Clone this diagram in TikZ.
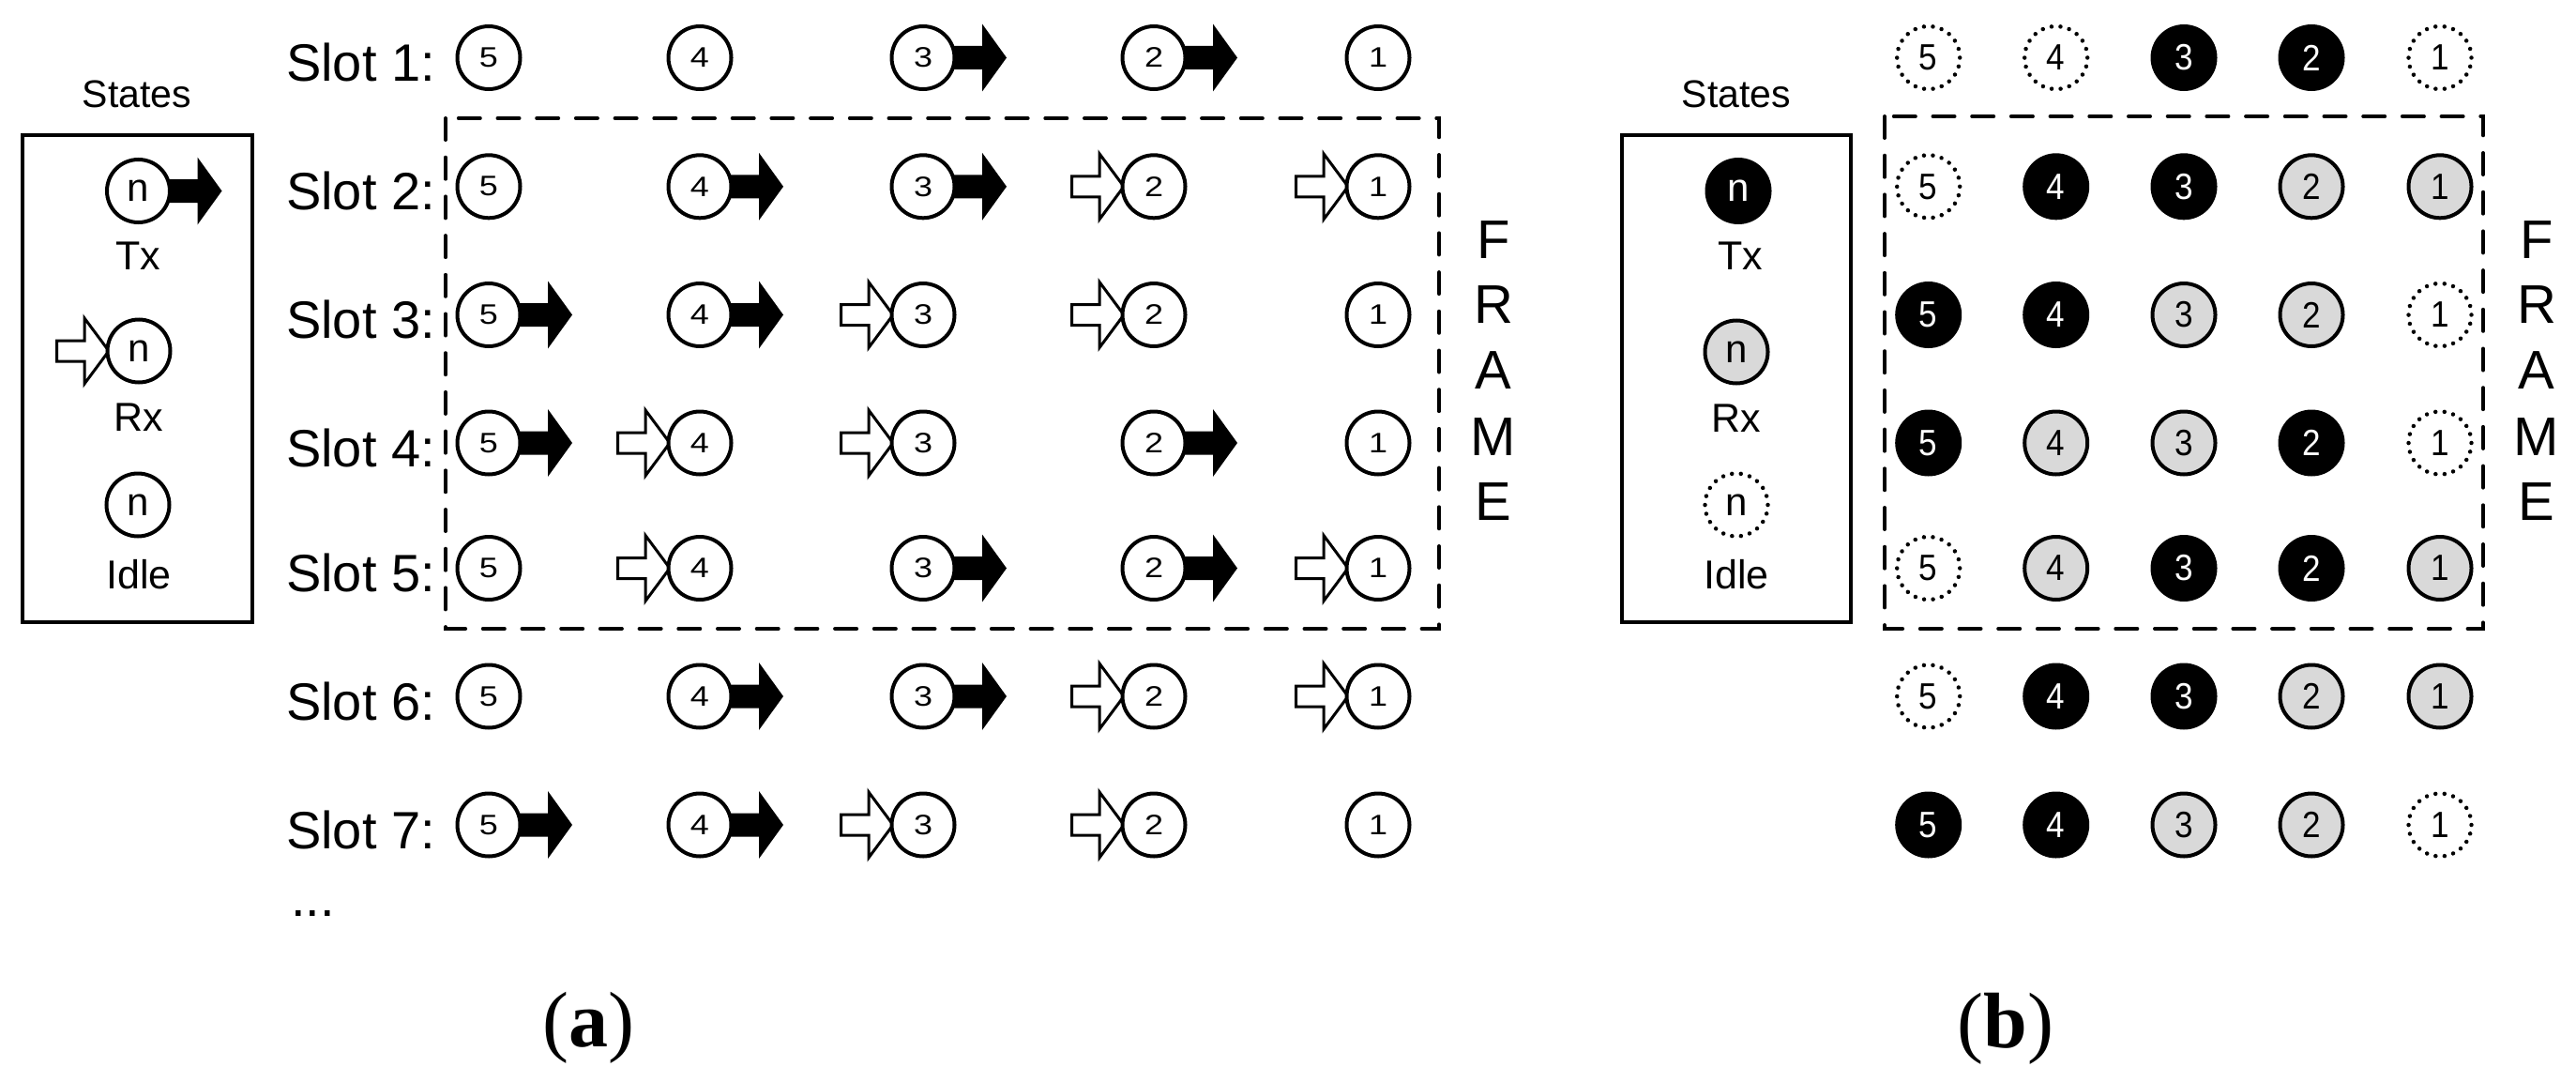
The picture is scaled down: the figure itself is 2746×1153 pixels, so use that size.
\documentclass[tikz,border=0pt]{standalone}
\usepackage{fontspec}
\setmainfont{Liberation Sans}
\newfontfamily\capfont{Liberation Serif}
\newfontfamily\widedigits{Liberation Sans}[FakeStretch=1.2]
\newfontfamily\narrowdigits{Liberation Sans}[FakeStretch=0.9]
\pgfdeclarelayer{bg}
\pgfsetlayers{bg,main}
\definecolor{rxgray}{RGB}{217,217,217}
\tikzset{
 anode/.style={circle, draw=black, line width=4pt, fill=white, minimum size=67pt, inner sep=0pt, font=\widedigits\fontsize{30}{36}\selectfont},
 legn/.style={font=\fontsize{42}{50}\selectfont},
 bnode/.style={circle, minimum size=67pt, inner sep=0pt, line width=4pt, font=\narrowdigits\fontsize{39}{46}\selectfont},
 btx/.style={bnode, fill=black, draw=black, text=white},
 brx/.style={bnode, fill=rxgray, draw=black},
 bidle/.style={bnode, draw=black, line width=4.5pt, dash pattern=on 0.01pt off 9.56pt, line cap=round, fill=white},
 slotlbl/.style={font=\fontsize{56}{67}\selectfont, inner sep=0pt, anchor=base west},
 leglbl/.style={font=\fontsize{43}{52}\selectfont, inner sep=0pt, anchor=base},
 framelbl/.style={font=\fontsize{58}{70}\selectfont, inner sep=0pt, anchor=base},
 caplbl/.style={font=\capfont\fontsize{84}{100}\selectfont, inner sep=0pt, anchor=base},
 framebox/.style={draw=black, line width=4pt, dash pattern=on 23pt off 18.7pt, line cap=round},
 legbox/.style={draw=black, line width=4pt},
 txarr/.pic={\fill[black] (30,-12.5) -- (63,-12.5) -- (63,-36) -- (89,0) -- (63,36) -- (63,12.5) -- (30,12.5) -- cycle;},
 rxarr/.pic={\draw[black, line width=3pt, fill=white, miter limit=20] (-87.5,-11) -- (-58,-11) -- (-58,-35) -- (-32,0) -- (-58,35) -- (-58,11) -- (-87.5,11) -- cycle;},
}
% cell of panel (a): name, x, y, digit, state t/r/i
\newcommand\cellA[5]{%
 \node[anode] (#1) at (#2,#3) {#4};%
 \if t#5\begin{pgfonlayer}{bg}\pic at (#1.center) {txarr};\end{pgfonlayer}\fi
 \if r#5\begin{pgfonlayer}{bg}\pic at (#1.center) {rxarr};\end{pgfonlayer}\fi}
\newcommand\rowA[7]{%
 \cellA{a#1c5}{521}{#2}{5}{#3}%
 \cellA{a#1c4}{746}{#2}{4}{#4}%
 \cellA{a#1c3}{984}{#2}{3}{#5}%
 \cellA{a#1c2}{1230}{#2}{2}{#6}%
 \cellA{a#1c1}{1469}{#2}{1}{#7}}
\newcommand\rowB[7]{%
 \node[b#3] (b#1c5) at (2055.7,#2) {5};%
 \node[b#4] (b#1c4) at (2191.7,#2) {4};%
 \node[b#5] (b#1c3) at (2328,#2) {3};%
 \node[b#6] (b#1c2) at (2464,#2) {2};%
 \node[b#7] (b#1c1) at (2601,#2) {1};}
\begin{document}
\begin{tikzpicture}[x=1pt,y=-1pt]
\useasboundingbox (0,0) rectangle (2746,1153);
% ---------- panel (a) ----------
\draw[legbox] (24,144) rectangle (269,663);
\node[leglbl, font=\fontsize{41}{50}\selectfont] (aStates) at (146,115) {States};
\cellA{aLtx}{147.5}{203.5}{}{t}
\node[legn] at (aLtx) {n};
\node[leglbl] (aLtxl) at (147,287.5) {Tx};
\cellA{aLrx}{148}{374}{}{r}
\node[legn] at (aLrx) {n};
\node[leglbl] (aLrxl) at (148,459.5) {Rx};
\cellA{aLid}{147}{538}{}{i}
\node[legn] at (aLid) {n};
\node[leglbl] (aLidl) at (148,627.5) {Idle};

\draw[framebox] (475,126) rectangle (1534,670);

\rowA{1}{61.5}{i}{i}{t}{t}{i}
\rowA{2}{198.8}{i}{t}{t}{r}{r}
\rowA{3}{335.5}{t}{t}{r}{r}{i}
\rowA{4}{472}{t}{r}{r}{t}{i}
\rowA{5}{605.5}{i}{r}{t}{t}{r}
\rowA{6}{742}{i}{t}{t}{r}{r}
\rowA{7}{879}{t}{t}{r}{r}{i}

\node[slotlbl] (sl1) at (305,86.5) {Slot 1:};
\node[slotlbl] (sl2) at (305,223.8) {Slot 2:};
\node[slotlbl] (sl3) at (305,360.5) {Slot 3:};
\node[slotlbl] (sl4) at (305,497) {Slot 4:};
\node[slotlbl] (sl5) at (305,630.5) {Slot 5:};
\node[slotlbl] (sl6) at (305,767) {Slot 6:};
\node[slotlbl] (sl7) at (305,904) {Slot 7:};
\node[slotlbl] (sldots) at (310,976) {...};

\node[framelbl] (aF) at (1592,275.5) {F};
\node[framelbl] (aR) at (1592,344.7) {R};
\node[framelbl] (aA) at (1592,414) {A};
\node[framelbl] (aM) at (1592,485) {M};
\node[framelbl] (aE) at (1592,554) {E};

\node[caplbl] (capa) at (627,1115) {(\textbf{a})};

% ---------- panel (b) ----------
\draw[legbox] (1729,144.5) rectangle (1973,663);
\node[leglbl, font=\fontsize{41}{50}\selectfont] (bStates) at (1851,115) {States};
\node[btx, legn] (bLtx) at (1853,203.5) {n};
\node[leglbl] (bLtxl) at (1855,287.5) {Tx};
\node[brx, legn] (bLrx) at (1851,375) {n};
\node[leglbl] (bLrxl) at (1851,460) {Rx};
\node[bidle, legn] (bLid) at (1851,538) {n};
\node[leglbl] (bLidl) at (1851,627) {Idle};

\draw[framebox] (2009,124) rectangle (2647,670);

\rowB{1}{61.5}{idle}{idle}{tx}{tx}{idle}
\rowB{2}{198.8}{idle}{tx}{tx}{rx}{rx}
\rowB{3}{335.5}{tx}{tx}{rx}{rx}{idle}
\rowB{4}{472}{tx}{rx}{rx}{tx}{idle}
\rowB{5}{605.5}{idle}{rx}{tx}{tx}{rx}
\rowB{6}{742}{idle}{tx}{tx}{rx}{rx}
\rowB{7}{879}{tx}{tx}{rx}{rx}{idle}

\node[framelbl] (bF) at (2704,275.5) {F};
\node[framelbl] (bR) at (2704,344.7) {R};
\node[framelbl] (bA) at (2704,414) {A};
\node[framelbl] (bM) at (2704,485) {M};
\node[framelbl] (bE) at (2704,554) {E};

\node[caplbl] (capb) at (2138,1116) {(\textbf{b})};
\end{tikzpicture}
\end{document}
